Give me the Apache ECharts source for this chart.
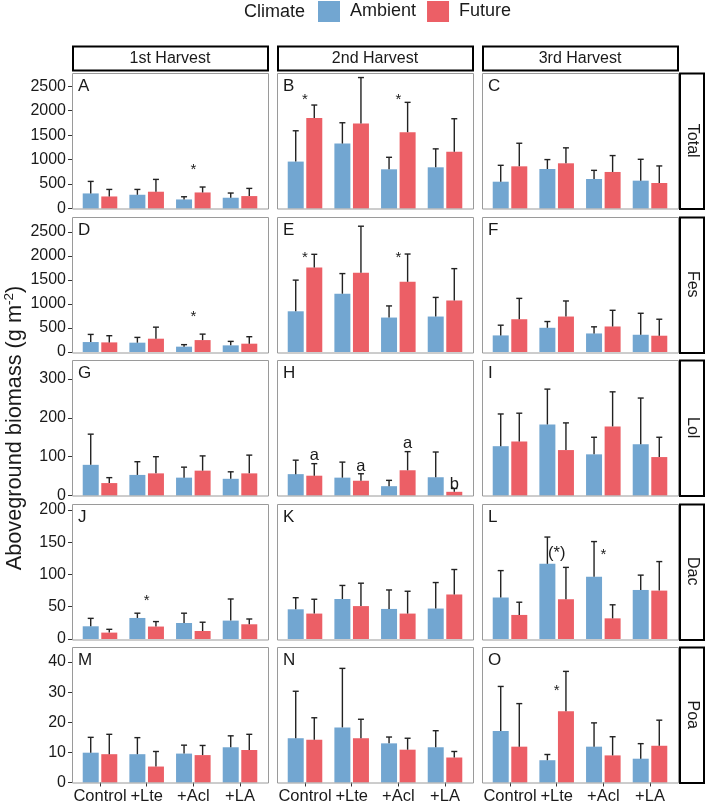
<!DOCTYPE html>
<html><head><meta charset="utf-8">
<script src="https://cdn.jsdelivr.net/npm/echarts@6/dist/echarts.min.js"></script>
<style>html,body{margin:0;padding:0;background:#fff}#c{width:708px;height:805px}</style>
</head><body><div id="c"></div>
<script>
// ---------- data ----------
const categories = ['Control', '+Lte', '+Acl', '+LA'];
const harvests = ['1st Harvest', '2nd Harvest', '3rd Harvest'];
const species = ['Total', 'Fes', 'Lol', 'Dac', 'Poa'];
const panelLetters = [['A','B','C'], ['D','E','F'], ['G','H','I'], ['J','K','L'], ['M','N','O']];
const yTicks = [
  [0, 500, 1000, 1500, 2000, 2500],
  [0, 500, 1000, 1500, 2000, 2500],
  [0, 100, 200, 300],
  [0, 50, 100, 150, 200],
  [0, 10, 20, 30, 40]
];
const yMax = [2770, 2820, 349, 210, 45];

// mean and mean+SE, per harvest (1st, 2nd, 3rd), per treatment
const totalAmbientMean  = [[308, 281, 185, 220], [959, 1328, 801, 842], [548, 808, 603, 569]];
const totalAmbientUpper = [[554, 390, 240, 316], [1589, 1753, 1047, 1219], [883, 1000, 780, 1006]];
const totalFutureMean   = [[246, 343, 328, 254], [1848, 1739, 1560, 1158], [862, 924, 747, 521]];
const totalFutureUpper  = [[390, 595, 439, 411], [2115, 2677, 2170, 1835], [1334, 1240, 1082, 870]];

const fesAmbientMean  = [[207, 194, 111, 138], [847, 1213, 717, 738], [345, 504, 386, 359]];
const fesAmbientUpper = [[366, 304, 153, 221], [1496, 1632, 959, 1136], [558, 634, 524, 806]];
const fesFutureMean   = [[200, 277, 248, 173], [1756, 1647, 1461, 1074], [682, 738, 531, 339]];
const fesFutureUpper  = [[339, 517, 372, 318], [2033, 2618, 2039, 1735], [1116, 1062, 868, 682]];

const lolAmbientMean  = [[79, 53, 46, 43], [55, 46, 24, 47], [127, 183, 106, 132]];
const lolAmbientUpper = [[158, 87, 73, 61], [91, 86, 39, 112], [210, 274, 150, 251]];
const lolFutureMean   = [[32, 57, 64, 57], [51, 38, 65, 9.5], [139, 117, 178, 99]];
const lolFutureUpper  = [[46, 100, 102, 104], [82, 56, 113, 18], [212, 187, 267, 150]];

const dacAmbientMean  = [[19.7, 32.6, 24.8, 28.5], [46, 62, 46.6, 47.2], [64.3, 116.5, 96.3, 76]];
const dacAmbientUpper = [[32, 40, 40, 62], [64, 83, 76, 87.5], [106, 158, 151, 99]];
const dacFutureMean   = [[9.9, 19.3, 12.4, 22.8], [39.4, 51, 39.4, 69], [37.3, 61.6, 32, 75]];
const dacFutureUpper  = [[15, 27, 26, 31], [61.6, 86.5, 74, 107.7], [57, 111, 53, 120]];

const poaAmbientMean  = [[9.9, 9.4, 9.6, 11.7], [14.7, 18.3, 13, 11.7], [17.1, 7.4, 11.9, 7.9]];
const poaAmbientUpper = [[15, 14.9, 12.4, 15.5], [30.3, 37.9, 15.1, 17.2], [31.9, 9.3, 19.8, 12.9]];
const poaFutureMean   = [[9.4, 5.3, 9.1, 10.8], [14.2, 14.7, 10.9, 8.3], [11.9, 23.7, 9, 12.2]];
const poaFutureUpper  = [[16, 10.3, 12.3, 16], [21.5, 21, 14.7, 10.3], [26.2, 36.9, 15.2, 20.7]];

// annotations: [panel, treatment index, y value, text, anchor (0 = group, 1 = Future bar)]
const annotations = [
  ['A', 2, 877, '*', 0],
  ['B', 0, 2310, '*', 0], ['B', 2, 2310, '*', 0],
  ['D', 2, 814, '*', 0],
  ['E', 0, 2045, '*', 0], ['E', 2, 2045, '*', 0],
  ['H', 0, 104, 'a', 1], ['H', 1, 74, 'a', 1], ['H', 2, 134, 'a', 1], ['H', 3, 29, 'b', 1],
  ['J', 1, 66, '*', 0],
  ['L', 1, 133, '(*)', 0], ['L', 2, 136, '*', 0],
  ['O', 1, 31.7, '*', 0]
];

const rowsAmbMean  = [totalAmbientMean, fesAmbientMean, lolAmbientMean, dacAmbientMean, poaAmbientMean];
const rowsAmbUpper = [totalAmbientUpper, fesAmbientUpper, lolAmbientUpper, dacAmbientUpper, poaAmbientUpper];
const rowsFutMean  = [totalFutureMean, fesFutureMean, lolFutureMean, dacFutureMean, poaFutureMean];
const rowsFutUpper = [totalFutureUpper, fesFutureUpper, lolFutureUpper, dacFutureUpper, poaFutureUpper];

// ---------- layout / style ----------
const FONT = "'Liberation Sans', Arial, Helvetica, sans-serif";
const BLUE = '#72a6d1', RED = '#ec5f66';
const TXT = '#1a1a1a';
const colLeft = [72, 277, 482];
const panelW = 196;
const rowTop0 = 73, rowStep = 143.5, panelH = 135.5;
const inset = panelW * 0.1 / 4.2;
const barW = 16, barGapPct = 16;
const barShift = (barW + barW * barGapPct / 100) / 2;

const grids = [], xAxes = [], yAxes = [], series = [], graphics = [];

function errRender(dx) {
  return function (params, api) {
    const x = api.value(0), m = api.value(1), u = api.value(2);
    const p0 = api.coord([x, m]);
    const p1 = api.coord([x, u]);
    const cx = p0[0] + dx;
    const st = { stroke: '#222', lineWidth: 1.4 };
    return {
      type: 'group', children: [
        { type: 'line', shape: { x1: cx, y1: p0[1], x2: cx, y2: p1[1] }, style: st },
        { type: 'line', shape: { x1: cx - 3, y1: p1[1], x2: cx + 3, y2: p1[1] }, style: st }
      ]
    };
  };
}

let idx = 0;
for (let r = 0; r < 5; r++) {
  const top = rowTop0 + r * rowStep;
  for (let c = 0; c < 3; c++) {
    const left = colLeft[c];
    grids.push({ left: left + inset, top: top, width: panelW - 2 * inset, height: panelH, containLabel: false });
    xAxes.push({
      gridIndex: idx, type: 'category', data: categories,
      axisLine: { show: false },
      axisTick: { show: r === 4, alignWithLabel: true, length: 4, lineStyle: { color: '#333', width: 1 } },
      axisLabel: { show: r === 4, interval: 0, hideOverlap: false, fontSize: 16.5, color: TXT, margin: 5, fontFamily: FONT },
      splitLine: { show: false }
    });
    yAxes.push({
      gridIndex: idx, type: 'value', min: 0, max: yMax[r], offset: inset,
      axisLine: { show: false },
      axisTick: { show: c === 0, length: 4, customValues: yTicks[r], lineStyle: { color: '#333', width: 1 } },
      axisLabel: { show: c === 0, customValues: yTicks[r], formatter: v => String(v), fontSize: 16, color: TXT, margin: 6, fontFamily: FONT },
      splitLine: { show: false }
    });
    const am = rowsAmbMean[r][c], au = rowsAmbUpper[r][c];
    const fm = rowsFutMean[r][c], fu = rowsFutUpper[r][c];
    series.push({
      type: 'bar', name: 'Ambient', xAxisIndex: idx, yAxisIndex: idx, data: am,
      barWidth: barW, barGap: barGapPct + '%', itemStyle: { color: BLUE }, silent: true
    });
    series.push({
      type: 'bar', name: 'Future', xAxisIndex: idx, yAxisIndex: idx, data: fm,
      barWidth: barW, barGap: barGapPct + '%', itemStyle: { color: RED }, silent: true
    });
    series.push({
      type: 'custom', name: 'errA', xAxisIndex: idx, yAxisIndex: idx, z: 5, silent: true,
      data: categories.map((_, k) => [k, am[k], au[k]]), renderItem: errRender(-barShift)
    });
    series.push({
      type: 'custom', name: 'errF', xAxisIndex: idx, yAxisIndex: idx, z: 5, silent: true,
      data: categories.map((_, k) => [k, fm[k], fu[k]]), renderItem: errRender(barShift)
    });
    const letter = panelLetters[r][c];
    const ann = annotations.filter(a => a[0] === letter);
    if (ann.length) {
      series.push({
        type: 'custom', name: 'ann', xAxisIndex: idx, yAxisIndex: idx, z: 6, silent: true,
        data: ann.map(a => [a[1], a[2]]),
        renderItem: function (params, api) {
          const a = ann[params.dataIndex];
          const p = api.coord([api.value(0), api.value(1)]);
          const isStar = a[3] === '*';
          const fs = isStar ? 15 : 16.5;
          return {
            type: 'text', x: p[0] + (a[4] === 1 ? barShift : 0), y: p[1] + (isStar ? 4 : 0),
            style: { text: a[3], fontSize: fs, fontFamily: FONT, fill: TXT, align: 'center', verticalAlign: 'middle' }
          };
        }
      });
    }
    graphics.push({ type: 'rect', z: 100, shape: { x: left + 0.5, y: Math.round(top) + 0.5, width: panelW, height: panelH }, style: { fill: 'none', stroke: '#9a9a9a', lineWidth: 1 } });
    graphics.push({ type: 'text', z: 100, x: left + 6, y: top + 5, style: { text: letter, fontSize: 17, fontFamily: FONT, fill: TXT, align: 'left', verticalAlign: 'top' } });
    idx++;
  }
  graphics.push({ type: 'rect', z: 100, shape: { x: 680, y: Math.round(top) + 0.5, width: 24, height: panelH }, style: { fill: '#fff', stroke: '#000', lineWidth: 2 } });
  graphics.push({ type: 'text', z: 101, x: 692, y: top + panelH / 2, rotation: -Math.PI / 2, style: { text: species[r], fontSize: 16, fontFamily: FONT, fill: TXT, align: 'center', verticalAlign: 'middle' } });
}
for (let c = 0; c < 3; c++) {
  graphics.push({ type: 'rect', z: 100, shape: { x: colLeft[c] + 1, y: 46.5, width: panelW - 1, height: 24 }, style: { fill: '#fff', stroke: '#000', lineWidth: 2 } });
  graphics.push({ type: 'text', z: 101, x: colLeft[c] + panelW / 2, y: 59, style: { text: harvests[c], fontSize: 16, fontFamily: FONT, fill: TXT, align: 'center', verticalAlign: 'middle' } });
}
graphics.push({ type: 'text', z: 100, x: 244, y: 12, style: { text: 'Climate', fontSize: 18, fontFamily: FONT, fill: TXT, align: 'left', verticalAlign: 'middle' } });
graphics.push({
  type: 'text', z: 100, x: 15, y: 428, rotation: Math.PI / 2,
  style: {
    text: '{a|Aboveground biomass (g m}{s|-2}{a|)}',
    align: 'center', verticalAlign: 'middle',
    rich: {
      a: { fontSize: 21.7, fontFamily: FONT, fill: TXT, lineHeight: 25 },
      s: { fontSize: 13.5, fontFamily: FONT, fill: TXT, lineHeight: 14, verticalAlign: 'top' }
    }
  }
});

const chart = echarts.init(document.getElementById('c'), null, { renderer: 'canvas' });
chart.setOption({
  animation: false,
  backgroundColor: '#fff',
  legend: {
    data: ['Ambient', 'Future'], left: 318, top: 1, padding: 0, itemWidth: 22, itemHeight: 21, itemGap: 11,
    icon: 'rect', selectedMode: false,
    textStyle: { fontSize: 18, color: TXT, fontFamily: FONT, padding: [0, 0, 0, 5] }
  },
  grid: grids, xAxis: xAxes, yAxis: yAxes, series: series, graphic: graphics
});
</script></body></html>
